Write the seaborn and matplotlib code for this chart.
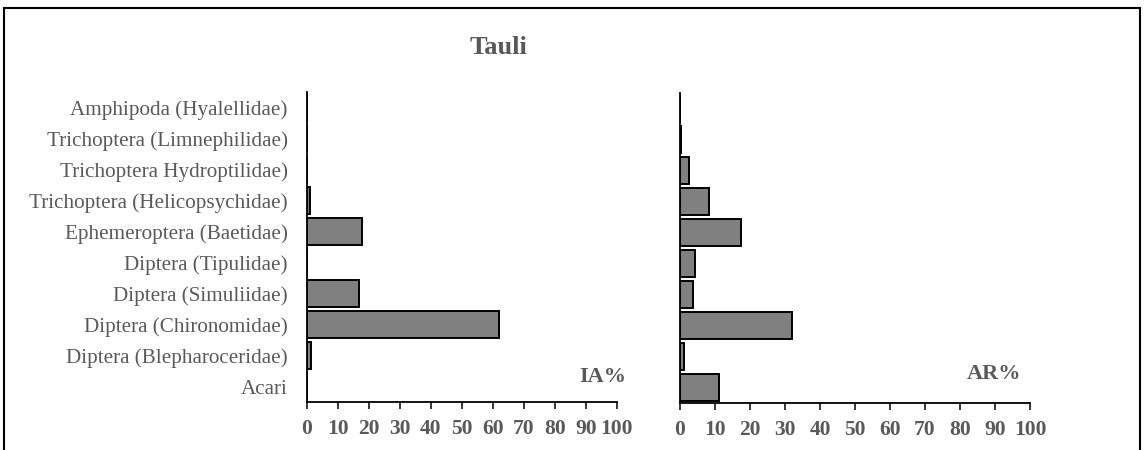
import matplotlib
matplotlib.use("Agg")
import matplotlib.pyplot as plt
import seaborn as sns
import pandas as pd
from matplotlib.patches import Rectangle

categories = [
    "Amphipoda (Hyalellidae)",
    "Trichoptera (Limnephilidae)",
    "Trichoptera Hydroptilidae)",
    "Trichoptera (Helicopsychidae)",
    "Ephemeroptera (Baetidae)",
    "Diptera (Tipulidae)",
    "Diptera (Simuliidae)",
    "Diptera (Chironomidae)",
    "Diptera (Blepharoceridae)",
    "Acari",
]
ia_values = [0.0, 0.1, 0.1, 1.0, 17.6, 0.0, 16.9, 62.0, 1.4, 0.1]
ar_values = [0.0, 0.3, 2.6, 8.3, 17.3, 4.3, 3.7, 32.1, 1.2, 11.2]
x_ticks = [0, 10, 20, 30, 40, 50, 60, 70, 80, 90, 100]
title = "Tauli"
panel_labels = ["IA%", "AR%"]

sns.set_theme(style="white")
plt.rcParams["font.family"] = ["Liberation Serif", "DejaVu Serif"]

TXT = "#595959"

df_ia = pd.DataFrame({"cat": categories, "val": ia_values})
df_ar = pd.DataFrame({"cat": categories, "val": ar_values})

fig = plt.figure(figsize=(11.44, 4.5), dpi=100)
fig.patch.set_facecolor("white")
ax1 = fig.add_axes([307 / 1144, 48 / 450, 310 / 1144, 310 / 450])
ax2 = fig.add_axes([680 / 1144, 47 / 450, 350 / 1144, 310 / 450])

for ax, df, lab in [(ax1, df_ia, panel_labels[0]), (ax2, df_ar, panel_labels[1])]:
    sns.barplot(data=df, x="val", y="cat", order=categories, orient="h",
                color="#808080", saturation=1, edgecolor="black",
                linewidth=1.4, width=0.84, ax=ax)
    ax.set_xlim(0, 100)
    ax.set_ylim(9.5, -0.5)
    ax.set_xticks(x_ticks)
    ax.set_xticklabels([str(t) for t in x_ticks])
    ax.set_xlabel("")
    ax.set_ylabel("")
    for s in ["top", "right"]:
        ax.spines[s].set_visible(False)
    for s in ["left", "bottom"]:
        ax.spines[s].set_color("black")
        ax.spines[s].set_linewidth(1.3)
    ax.tick_params(axis="x", which="major", direction="out", length=5,
                   width=1.1, color="black", pad=7, labelsize=15.5,
                   labelcolor=TXT, bottom=True)
    for t in ax.get_xticklabels():
        t.set_fontweight("bold")
    ax.tick_params(axis="y", length=0, pad=14)
    ax.set_facecolor("none")

ax1.set_yticks(range(len(categories)))
ax1.set_yticklabels(categories, fontsize=15.2, color=TXT)
ax2.set_yticks(range(len(categories)))
ax2.set_yticklabels([])

fig.text(626 / 1144, 1 - 377 / 450, panel_labels[0], ha="right", va="center",
         fontsize=16, fontweight="bold", color=TXT)
fig.text(1021 / 1144, 1 - 374 / 450, panel_labels[1], ha="right", va="center",
         fontsize=16, fontweight="bold", color=TXT)
fig.text(498 / 1144, 1 - 47 / 450, title, ha="center", va="center",
         fontsize=19, fontweight="bold", color=TXT)

fig.patches.append(Rectangle((4 / 1144, -0.05), 1136 / 1144, 1.05 - 8 / 450,
                             transform=fig.transFigure, fill=False,
                             edgecolor="black", linewidth=1.5))

fig.savefig("out.png", dpi=100, facecolor="white")
